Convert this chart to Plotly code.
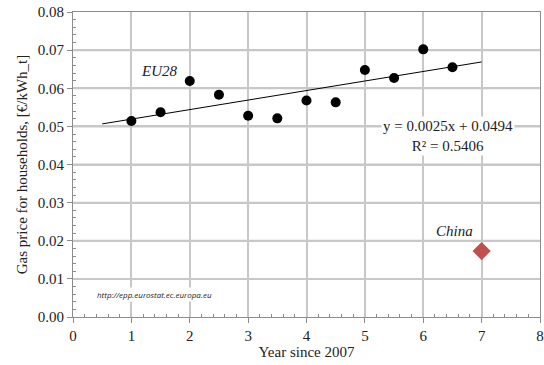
import plotly.graph_objects as go
import numpy as np

# Data
eu_years = [1, 1.5, 2, 2.5, 3, 3.5, 4, 4.5, 5, 5.5, 6, 6.5]
eu_price = [0.0514, 0.0537, 0.0619, 0.0583, 0.0528, 0.0521, 0.0568, 0.0563, 0.0648, 0.0627, 0.0702, 0.0655]
china_year = [7]
china_price = [0.0173]
trend_slope = 0.0025
trend_intercept = 0.0494
trend_range = [0.5, 7]
x_ticks = [0, 1, 2, 3, 4, 5, 6, 7, 8]
y_ticks = [0.00, 0.01, 0.02, 0.03, 0.04, 0.05, 0.06, 0.07, 0.08]

trend_x = np.array(trend_range)
trend_y = trend_slope * trend_x + trend_intercept

x_minor = [round(i * 0.2, 1) for i in range(41) if i % 5]
y_minor = [round(i * 0.002, 3) for i in range(41) if i % 5]

serif = "Liberation Serif"
axcol = "#8c8c8c"
gridcol = "#c8c8c8"

fig = go.Figure()
fig.add_trace(go.Scatter(x=trend_x, y=trend_y, mode="lines",
                         line=dict(color="black", width=1), showlegend=False, hoverinfo="skip"))
fig.add_trace(go.Scatter(x=eu_years, y=eu_price, mode="markers",
                         marker=dict(color="black", size=10, symbol="circle"), showlegend=False))
fig.add_trace(go.Scatter(x=china_year, y=china_price, mode="markers",
                         marker=dict(color="#c0504d", size=14, symbol="diamond"), showlegend=False))

# horizontal grid lines at the y tick values
for yv in y_ticks[1:-1]:
    fig.add_hline(y=yv, line=dict(color=gridcol, width=2), layer="below")

fig.add_annotation(x=1.47, y=0.0646, text="<i>EU28</i>", showarrow=False,
                   font=dict(family=serif, size=15, color="#222"))
fig.add_annotation(x=6.54, y=0.0226, text="<i>China</i>", showarrow=False,
                   font=dict(family=serif, size=15, color="#222"))
fig.add_annotation(x=6.42, y=0.0476,
                   text="y = 0.0025x + 0.0494<br>R² = 0.5406",
                   showarrow=False, bgcolor="white", borderpad=1,
                   font=dict(family=serif, size=15, color="#222"))
fig.add_annotation(x=1.39, y=0.0059, text="<i>http://epp.eurostat.ec.europa.eu</i>",
                   showarrow=False, bgcolor="white", borderpad=1,
                   font=dict(family="Open Sans", size=8, color="#222"))

fig.update_layout(
    width=544, height=365,
    margin=dict(l=73, r=4, t=12, b=48),
    paper_bgcolor="white", plot_bgcolor="white",
    font=dict(family=serif, size=15, color="#222"),
)
fig.update_xaxes(
    range=[0, 8], tickmode="array", tickvals=x_ticks, ticktext=[str(v) for v in x_ticks],
    automargin=False,
    showgrid=True, gridcolor=gridcol, gridwidth=2,
    showline=True, linecolor=axcol, linewidth=1, mirror=True,
    ticks="outside", ticklen=5, tickcolor=axcol,
    minor=dict(tickmode="array", tickvals=x_minor, ticks="inside", ticklen=3,
               tickcolor=axcol, showgrid=False),
    zeroline=False,
    title=dict(text="Year since 2007", font=dict(family=serif, size=15), standoff=2),
    tickfont=dict(family=serif, size=15),
)
fig.update_yaxes(
    range=[0, 0.08], tickmode="array", tickvals=y_ticks, ticktext=[f"{v:.2f}" for v in y_ticks],
    automargin=False,
    showgrid=True, gridcolor=gridcol, gridwidth=2,
    showline=True, linecolor=axcol, linewidth=1, mirror=True,
    ticks="outside", ticklen=5, tickcolor=axcol,
    minor=dict(tickmode="array", tickvals=y_minor, ticks="inside", ticklen=3,
               tickcolor=axcol, showgrid=False),
    zeroline=False,
    title=dict(text="Gas price for households, [€/kWh_t]", font=dict(family=serif, size=15), standoff=6),
    tickfont=dict(family=serif, size=15),
)

fig.write_html("out.html", post_script="document.body.style.margin='0';",
               config={"displayModeBar": False})
